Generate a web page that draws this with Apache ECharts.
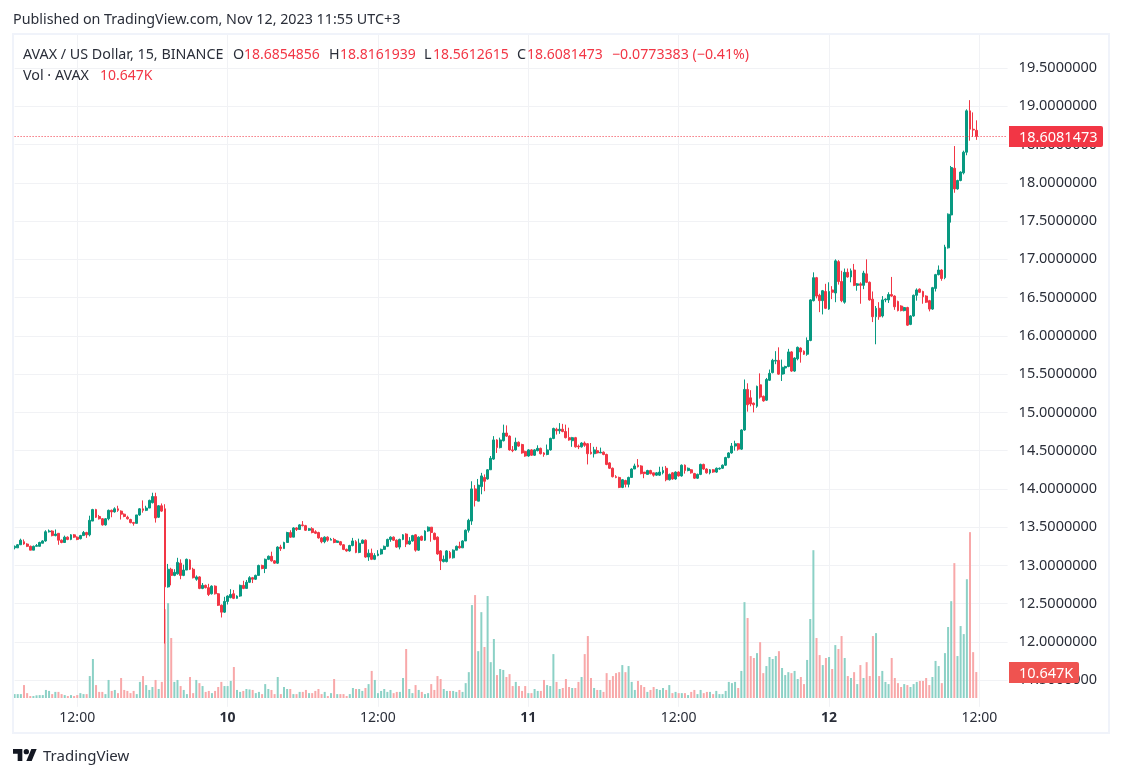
<!DOCTYPE html>
<html>
<head>
<meta charset="utf-8">
<title>AVAX / US Dollar</title>
<script src="https://cdn.jsdelivr.net/npm/echarts@6/dist/echarts.min.js"></script>
<style>
  html, body { margin: 0; padding: 0; background: #fff; }
  #chart { width: 1122px; height: 777px; }
</style>
</head>
<body>
<div id="chart"></div>
<script>
// 15 minute bars, first one is Nov 9 07:00 (UTC+3)
const opens = [
  13.23,13.23,13.27,13.31,13.28,13.25,13.20,13.25,13.25,13.29,
  13.32,13.44,13.45,13.39,13.42,13.33,13.30,13.37,13.34,13.40,
  13.37,13.35,13.39,13.43,13.40,13.58,13.73,13.64,13.61,13.53,
  13.61,13.72,13.70,13.74,13.71,13.67,13.63,13.60,13.56,13.55,
  13.66,13.74,13.72,13.75,13.82,13.90,13.63,13.78,13.74,12.72,
  12.95,12.87,12.89,13.03,12.87,12.94,13.07,12.95,12.82,12.85,
  12.70,12.74,12.71,12.63,12.73,12.63,12.48,12.39,12.53,12.58,
  12.63,12.57,12.60,12.74,12.70,12.78,12.84,12.82,12.87,13.00,
  12.96,13.08,13.12,13.06,13.03,13.24,13.22,13.30,13.43,13.37,
  13.49,13.47,13.53,13.52,13.46,13.48,13.44,13.43,13.36,13.31,
  13.37,13.33,13.34,13.30,13.31,13.27,13.21,13.19,13.26,13.31,
  13.17,13.29,13.33,13.11,13.16,13.08,13.13,13.15,13.21,13.25,
  13.34,13.37,13.33,13.24,13.34,13.41,13.28,13.32,13.40,13.20,
  13.38,13.33,13.45,13.50,13.42,13.37,13.19,13.05,13.05,13.17,
  13.10,13.20,13.25,13.23,13.32,13.46,13.58,14.00,13.84,14.03,
  14.15,14.13,14.25,14.39,14.64,14.54,14.63,14.73,14.69,14.51,
  14.51,14.61,14.58,14.49,14.43,14.51,14.44,14.50,14.53,14.47,
  14.45,14.51,14.66,14.78,14.76,14.78,14.75,14.67,14.63,14.67,
  14.56,14.55,14.60,14.59,14.48,14.46,14.50,14.47,14.48,14.45,
  14.34,14.27,14.16,14.15,14.02,14.11,14.06,14.15,14.26,14.31,
  14.30,14.22,14.19,14.24,14.21,14.18,14.18,14.21,14.27,14.12,
  14.21,14.13,14.22,14.17,14.31,14.24,14.25,14.20,14.14,14.19,
  14.32,14.26,14.21,14.25,14.22,14.26,14.27,14.31,14.41,14.47,
  14.56,14.59,14.52,14.77,15.30,15.19,15.12,15.08,15.36,15.21,
  15.16,15.42,15.52,15.67,15.68,15.50,15.58,15.60,15.79,15.54,
  15.70,15.84,15.80,15.76,15.94,16.46,16.76,16.53,16.46,16.58,
  16.35,16.60,16.56,16.97,16.71,16.44,16.83,16.77,16.86,16.66,
  16.68,16.66,16.81,16.70,16.48,16.25,16.36,16.26,16.47,16.47,
  16.54,16.52,16.45,16.39,16.33,16.37,16.15,16.26,16.53,16.61,
  16.58,16.52,16.46,16.35,16.62,16.80,16.86,16.76,17.15,17.58,
  18.19,17.92,18.03,18.13,18.40,18.94,18.70,18.6854856
];
const closes = [
  13.25,13.27,13.33,13.28,13.25,13.20,13.25,13.26,13.30,13.32,
  13.44,13.45,13.39,13.41,13.33,13.30,13.37,13.34,13.40,13.37,
  13.34,13.39,13.43,13.40,13.59,13.73,13.63,13.61,13.53,13.61,
  13.72,13.70,13.74,13.72,13.67,13.64,13.61,13.56,13.55,13.66,
  13.74,13.72,13.75,13.85,13.90,13.62,13.78,13.71,12.72,12.95,
  12.87,12.91,13.04,12.87,12.94,13.08,12.95,12.84,12.85,12.70,
  12.74,12.71,12.62,12.73,12.63,12.48,12.39,12.53,12.60,12.62,
  12.57,12.60,12.74,12.70,12.78,12.84,12.82,12.87,13.00,12.96,
  13.08,13.12,13.06,13.03,13.24,13.22,13.30,13.43,13.37,13.49,
  13.47,13.53,13.52,13.46,13.48,13.43,13.42,13.36,13.31,13.37,
  13.33,13.34,13.30,13.32,13.27,13.21,13.19,13.26,13.32,13.17,
  13.29,13.33,13.11,13.16,13.08,13.13,13.15,13.21,13.25,13.34,
  13.37,13.33,13.24,13.34,13.40,13.28,13.32,13.39,13.20,13.37,
  13.33,13.45,13.50,13.43,13.34,13.15,13.06,13.08,13.19,13.10,
  13.20,13.25,13.23,13.32,13.46,13.59,14.00,13.85,14.05,14.17,
  14.10,14.25,14.40,14.64,14.54,14.64,14.73,14.69,14.51,14.50,
  14.61,14.56,14.47,14.43,14.51,14.44,14.51,14.53,14.46,14.45,
  14.51,14.66,14.79,14.76,14.78,14.75,14.67,14.64,14.67,14.55,
  14.55,14.60,14.57,14.46,14.46,14.51,14.47,14.48,14.45,14.32,
  14.27,14.16,14.15,14.02,14.12,14.06,14.15,14.26,14.30,14.29,
  14.20,14.20,14.24,14.20,14.18,14.21,14.22,14.24,14.12,14.19,
  14.13,14.22,14.17,14.31,14.24,14.27,14.21,14.14,14.19,14.32,
  14.26,14.21,14.25,14.22,14.27,14.27,14.31,14.41,14.47,14.56,
  14.59,14.52,14.77,15.30,15.10,15.11,15.10,15.34,15.20,15.15,
  15.43,15.51,15.68,15.68,15.50,15.59,15.60,15.79,15.54,15.71,
  15.85,15.79,15.76,15.94,16.47,16.76,16.52,16.46,16.59,16.36,
  16.58,16.57,16.98,16.71,16.46,16.83,16.77,16.85,16.66,16.68,
  16.66,16.82,16.70,16.47,16.25,16.36,16.25,16.47,16.48,16.54,
  16.52,16.38,16.33,16.33,16.37,16.14,16.26,16.53,16.60,16.57,
  16.51,16.44,16.35,16.63,16.80,16.86,16.75,17.16,17.59,18.20,
  17.92,18.03,18.14,18.40,18.94,18.70,18.69,18.6081473
];
const highs = [
  13.26,13.28,13.35,13.34,13.29,13.26,13.26,13.28,13.31,13.33,
  13.46,13.47,13.46,13.47,13.42,13.34,13.39,13.38,13.41,13.41,
  13.38,13.40,13.45,13.44,13.65,13.74,13.74,13.66,13.62,13.62,
  13.73,13.73,13.76,13.78,13.72,13.68,13.65,13.61,13.57,13.66,
  13.75,13.85,13.78,13.86,13.95,13.95,13.79,13.81,13.80,13.02,
  12.97,12.95,13.10,13.08,13.01,13.09,13.08,12.97,12.87,12.86,
  12.77,12.75,12.76,12.74,12.74,12.64,12.49,12.59,12.61,12.69,
  12.68,12.61,12.75,12.80,12.81,12.86,12.85,12.88,13.01,13.01,
  13.09,13.13,13.18,13.07,13.25,13.27,13.31,13.44,13.46,13.50,
  13.50,13.54,13.58,13.53,13.49,13.50,13.46,13.44,13.37,13.38,
  13.38,13.36,13.36,13.33,13.32,13.28,13.22,13.27,13.36,13.33,
  13.35,13.34,13.34,13.21,13.22,13.16,13.20,13.22,13.26,13.35,
  13.38,13.38,13.34,13.35,13.41,13.42,13.37,13.40,13.41,13.38,
  13.39,13.46,13.51,13.50,13.43,13.38,13.20,13.13,13.20,13.19,
  13.21,13.26,13.31,13.33,13.47,13.61,14.10,14.05,14.13,14.21,
  14.19,14.26,14.43,14.69,14.65,14.67,14.84,14.83,14.70,14.56,
  14.67,14.62,14.59,14.50,14.52,14.52,14.52,14.57,14.54,14.48,
  14.58,14.67,14.80,14.80,14.86,14.85,14.84,14.80,14.68,14.68,
  14.58,14.61,14.62,14.60,14.60,14.55,14.55,14.54,14.49,14.46,
  14.35,14.28,14.18,14.16,14.13,14.12,14.16,14.27,14.33,14.39,
  14.31,14.21,14.25,14.25,14.19,14.22,14.29,14.29,14.30,14.20,
  14.22,14.23,14.23,14.32,14.32,14.28,14.26,14.21,14.20,14.33,
  14.33,14.27,14.26,14.26,14.28,14.28,14.32,14.42,14.48,14.60,
  14.63,14.60,14.78,15.43,15.38,15.29,15.13,15.35,15.51,15.22,
  15.45,15.56,15.70,15.80,15.85,15.69,15.61,15.83,15.80,15.72,
  15.86,15.85,15.81,15.98,16.48,16.83,16.77,16.55,16.60,16.68,
  16.70,16.65,17.00,16.99,16.85,16.88,16.88,16.88,16.94,16.69,
  16.70,16.85,17.00,16.71,16.58,16.39,16.44,16.52,16.49,16.57,
  16.77,16.53,16.46,16.40,16.38,16.38,16.27,16.54,16.62,16.62,
  16.59,16.53,16.47,16.64,16.81,16.92,16.87,17.19,17.60,18.22,
  18.48,18.04,18.15,18.42,18.96,19.08,18.92,18.8161939
];
const lows = [
  13.21,13.23,13.27,13.27,13.24,13.20,13.20,13.25,13.25,13.29,
  13.31,13.43,13.38,13.38,13.27,13.29,13.30,13.33,13.33,13.36,
  13.33,13.34,13.39,13.36,13.38,13.58,13.62,13.60,13.52,13.52,
  13.59,13.63,13.69,13.70,13.60,13.63,13.60,13.55,13.52,13.55,
  13.65,13.69,13.71,13.75,13.81,13.56,13.62,13.70,11.98,12.71,
  12.74,12.86,12.88,12.82,12.86,12.94,12.94,12.83,12.80,12.69,
  12.69,12.70,12.60,12.62,12.62,12.47,12.32,12.38,12.49,12.57,
  12.56,12.59,12.59,12.69,12.70,12.77,12.77,12.81,12.87,12.95,
  12.90,13.07,13.05,13.02,13.02,13.19,13.22,13.30,13.36,13.37,
  13.45,13.47,13.51,13.45,13.45,13.42,13.41,13.35,13.29,13.29,
  13.31,13.33,13.29,13.30,13.26,13.20,13.18,13.18,13.25,13.16,
  13.16,13.28,13.10,13.06,13.07,13.07,13.12,13.14,13.24,13.24,
  13.31,13.32,13.23,13.21,13.33,13.24,13.27,13.31,13.18,13.19,
  13.32,13.32,13.44,13.31,13.33,13.14,12.94,13.04,13.04,13.09,
  13.09,13.20,13.22,13.23,13.32,13.43,13.53,13.77,13.84,13.93,
  13.97,14.12,14.25,14.38,14.47,14.53,14.62,14.68,14.50,14.48,
  14.50,14.55,14.46,14.42,14.42,14.43,14.43,14.49,14.45,14.42,
  14.44,14.50,14.65,14.71,14.72,14.74,14.66,14.63,14.55,14.54,
  14.52,14.54,14.55,14.32,14.45,14.41,14.46,14.47,14.44,14.31,
  14.26,14.15,14.14,14.01,14.01,14.02,14.02,14.15,14.26,14.28,
  14.19,14.14,14.19,14.19,14.16,14.17,14.17,14.19,14.10,14.11,
  14.12,14.12,14.16,14.16,14.20,14.23,14.20,14.13,14.13,14.18,
  14.25,14.20,14.19,14.21,14.21,14.25,14.26,14.30,14.40,14.46,
  14.50,14.50,14.51,14.76,15.01,15.08,15.00,15.06,15.18,15.14,
  15.15,15.41,15.51,15.63,15.49,15.41,15.50,15.59,15.53,15.53,
  15.68,15.65,15.75,15.74,15.93,16.45,16.49,16.31,16.28,16.35,
  16.34,16.48,16.44,16.67,16.44,16.42,16.76,16.70,16.65,16.59,
  16.42,16.61,16.69,16.46,16.18,15.89,16.21,16.24,16.44,16.43,
  16.51,16.34,16.32,16.32,16.32,16.13,16.14,16.25,16.46,16.56,
  16.42,16.43,16.32,16.34,16.58,16.79,16.72,16.74,17.14,17.48,
  17.87,17.91,18.02,18.11,18.36,18.55,18.60,18.5612615
];
// volume in thousands
const volumes = [
  1.6,1.6,1.6,5.3,2.0,0.8,0.8,1.1,1.2,1.2,
  3.3,2.9,1.6,2.5,2.5,1.6,1.2,0.8,1.2,0.8,
  1.2,2.0,1.6,1.6,9.0,16.0,5.3,2.5,2.5,1.6,
  7.4,2.9,3.3,2.0,8.2,3.3,2.9,2.0,2.9,1.6,
  6.6,9.0,5.3,3.3,4.5,7.4,3.7,6.6,36.4,38.9,
  24.6,6.6,7.4,4.9,3.3,1.6,8.6,2.0,7.4,6.1,
  4.9,2.5,2.9,2.0,2.9,4.5,6.6,4.9,4.9,7.0,
  12.7,3.3,2.5,2.9,3.7,3.5,3.3,2.0,2.5,1.6,
  5.7,3.7,3.3,1.6,8.6,1.6,4.5,3.7,3.7,1.6,
  1.6,2.5,2.5,3.3,2.0,2.0,2.9,3.7,1.6,2.5,
  0.8,2.0,7.8,1.6,1.6,1.6,0.8,1.6,4.1,3.7,
  3.7,2.9,4.1,5.7,11.1,7.4,2.0,2.9,3.7,2.5,
  3.3,2.0,2.5,2.5,8.2,20.1,3.7,2.0,5.3,3.3,
  2.5,1.6,2.0,5.7,3.3,9.0,7.8,3.7,2.9,2.9,
  2.9,2.5,3.3,2.5,6.1,10.6,38.1,42.2,19.2,35.2,
  20.9,41.8,14.7,24.2,9.4,11.9,11.5,8.6,9.8,4.9,
  6.6,4.9,2.9,4.9,2.0,2.0,3.7,2.9,2.9,7.4,
  5.3,4.9,18.0,6.6,3.7,4.1,7.8,4.5,4.1,4.1,
  6.6,8.6,18.0,25.4,8.2,4.1,3.3,3.3,2.5,10.2,
  7.4,9.0,10.2,10.6,13.5,10.6,13.1,6.6,3.3,7.0,
  5.3,4.5,2.5,3.3,4.5,3.7,3.3,4.1,3.3,5.3,
  2.0,2.5,2.0,2.0,2.0,1.2,2.5,3.3,1.6,3.3,
  2.0,2.5,2.5,1.6,2.9,1.6,1.6,2.9,6.6,6.1,
  6.6,4.1,11.1,39.3,32.8,17.2,16.4,18.4,22.9,10.2,
  13.1,16.8,16.0,17.2,19.2,12.3,9.4,10.6,10.2,11.1,
  7.8,8.6,5.7,15.6,32.4,60.6,24.6,17.6,13.5,16.4,
  16.8,11.9,21.7,20.1,25.4,16.4,9.0,8.2,10.6,5.7,
  13.5,8.2,14.7,9.0,25.4,26.6,9.0,11.1,6.6,5.7,
  16.4,8.2,6.1,4.5,5.7,5.3,4.5,5.7,6.6,7.0,
  7.0,8.2,5.3,8.6,15.2,13.1,6.1,18.4,29.1,39.7,
  55.3,17.2,29.5,26.2,48.7,68.0,18.8,10.647
];
const priceTicks = [11.5,12,12.5,13,13.5,14,14.5,15,15.5,16,16.5,17,17.5,18,18.5,19,19.5];
const timeTicks = { '2023-11-09 12:00': '12:00', '2023-11-10 00:00': '{day|10}', '2023-11-10 12:00': '12:00',
  '2023-11-11 00:00': '{day|11}', '2023-11-11 12:00': '12:00', '2023-11-12 00:00': '{day|12}', '2023-11-12 12:00': '12:00' };
const lastPrice = '18.6081473';
const lastVolume = '10.647K';

const UP = '#089981';
const DOWN = '#f23645';
const UP_VOL = '#8cd1c6';
const DOWN_VOL = '#f8a8a9';
const GRID_LINE = '#f1f2f5';
const FRAME = '#f0f3fa';
const TEXT = '#2a2e39';
const FONT = '"Noto Sans", sans-serif';

// the axis runs on a bit past the last bar, like the empty space on the right of the original
const categories = [];
for (let i = 0; i < 318; i++) {
  const d = new Date(Date.UTC(2023, 10, 9, 7, 0) + i * 15 * 60000);
  categories.push(d.toISOString().slice(0, 16).replace('T', ' '));
}
const isTimeTick = (index, name) => name in timeTicks;

const candleData = opens.map((o, i) => [o, closes[i], lows[i], highs[i]]);
const volumeData = volumes.map((v, i) => ({
  value: v,
  itemStyle: { color: closes[i] >= opens[i] ? UP_VOL : DOWN_VOL }
}));

const legendText = (x, y, text, color, size) => ({
  type: 'text', x, y, z: 50,
  style: { text, fill: color || TEXT, font: (size || 14.3) + 'px ' + FONT, textVerticalAlign: 'middle' }
});

const chart = echarts.init(document.getElementById('chart'));
chart.setOption({
  animation: false,
  backgroundColor: '#fff',
  grid: [
    { left: 14.6, top: 33.8, width: 993, height: 673 },
    { left: 14.6, top: 498, width: 993, height: 200 }
  ],
  xAxis: [
    {
      type: 'category', gridIndex: 0, data: categories, boundaryGap: false,
      axisLine: { show: false },
      axisTick: { show: false },
      splitLine: { show: true, interval: isTimeTick, lineStyle: { color: GRID_LINE, width: 1 } },
      axisLabel: {
        interval: isTimeTick,
        formatter: (name) => timeTicks[name] || '',
        color: TEXT, fontFamily: FONT, fontSize: 14, margin: 4,
        rich: { day: { color: TEXT, fontFamily: FONT, fontSize: 14, fontWeight: 'bold' } }
      }
    },
    { type: 'category', gridIndex: 1, data: categories, boundaryGap: false, show: false }
  ],
  yAxis: [
    {
      type: 'value', gridIndex: 0, position: 'right', min: 11.153, max: 19.947,
      axisLine: { show: false },
      axisTick: { show: false, customValues: priceTicks },
      splitLine: { show: true, lineStyle: { color: GRID_LINE, width: 1 } },
      axisLabel: {
        customValues: priceTicks,
        formatter: (v) => v.toFixed(7),
        color: TEXT, fontFamily: FONT, fontSize: 14.5, margin: 11
      }
    },
    { type: 'value', gridIndex: 1, min: 0, max: 82, show: false }
  ],
  series: [
    {
      name: 'Vol', type: 'bar', xAxisIndex: 1, yAxisIndex: 1,
      data: volumeData, barWidth: 2, clip: false, silent: true
    },
    {
      name: 'AVAX', type: 'candlestick', xAxisIndex: 0, yAxisIndex: 0,
      data: candleData, barWidth: 2.4, clip: false, silent: true,
      itemStyle: { color: UP, color0: DOWN, borderColor: UP, borderColor0: DOWN, borderWidth: 1 },
      markLine: {
        silent: true, symbol: 'none', animation: false,
        label: { show: false },
        lineStyle: { color: DOWN, type: [1, 2], width: 1 },
        data: [{ yAxis: closes[closes.length - 1] }]
      }
    }
  ],
  graphic: [
    // frame
    { type: 'rect', z: 40, shape: { x: 13, y: 34, width: 1096, height: 699 },
      style: { fill: 'none', stroke: FRAME, lineWidth: 2 } },
    // header and legend
    legendText(13, 20, 'Published on TradingView.com, Nov 12, 2023 11:55 UTC+3'),
    legendText(23, 55, 'AVAX / US Dollar, 15, BINANCE'),
    legendText(233, 55, 'O'),
    legendText(244, 55, '18.6854856', DOWN, 14),
    legendText(329, 55, 'H'),
    legendText(340, 55, '18.8161939', DOWN, 14),
    legendText(424, 55, 'L'),
    legendText(433, 55, '18.5612615', DOWN, 14),
    legendText(517, 55, 'C'),
    legendText(527, 55, lastPrice, DOWN, 14),
    legendText(612, 55, '\u22120.0773383 (\u22120.41%)', DOWN, 14.2),
    legendText(23, 76, 'Vol \u00b7 AVAX'),
    legendText(100, 76, lastVolume, DOWN, 14),
    // last price and last volume tags on the price scale
    { type: 'rect', z: 60, shape: { x: 1009, y: 126, width: 94, height: 21, r: [0, 2, 2, 0] }, style: { fill: DOWN } },
    { type: 'text', z: 61, x: 1019, y: 138,
      style: { text: lastPrice, fill: '#fff', font: '14.5px ' + FONT, textVerticalAlign: 'middle' } },
    { type: 'rect', z: 60, shape: { x: 1009, y: 662, width: 70, height: 21, r: [0, 2, 2, 0] }, style: { fill: '#ef5350' } },
    { type: 'text', z: 61, x: 1019, y: 674,
      style: { text: lastVolume, fill: '#fff', font: '14.5px ' + FONT, textVerticalAlign: 'middle' } },
    // TradingView mark
    { type: 'group', x: 13, y: 749, scaleX: 0.667, scaleY: 0.667, z: 50, children: [
      { type: 'polygon', shape: { points: [[0, 0], [14, 0], [14, 18], [7, 18], [7, 7], [0, 7]] }, style: { fill: '#131722' } },
      { type: 'polygon', shape: { points: [[27.5, 0], [35.5, 0], [28, 18], [20, 18]] }, style: { fill: '#131722' } },
      { type: 'circle', shape: { cx: 20, cy: 4, r: 4 }, style: { fill: '#131722' } }
    ] },
    { type: 'text', z: 50, x: 43, y: 757,
      style: { text: 'TradingView', fill: TEXT, font: '15px ' + FONT, textVerticalAlign: 'middle' } }
  ]
});
</script>
</body>
</html>
